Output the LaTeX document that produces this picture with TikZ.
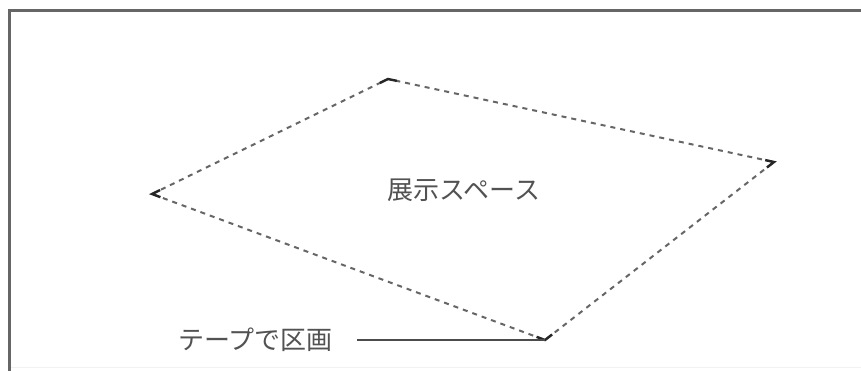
\documentclass[tikz,border=0pt]{standalone}
\usepackage{fontspec}
\usetikzlibrary{calc}
\newfontfamily\jpfont{Noto Sans CJK JP}
\begin{document}
\begin{tikzpicture}[x=1pt,y=-1pt,
  tape/.style={draw=black!60, line width=2pt, dash pattern=on 5pt off 5pt},
  cornermark/.style={draw=black!85, line width=2.4pt},
  frame/.style={draw=black!60, line width=3pt},
  lbl/.style={font=\jpfont\fontsize{26}{26}\selectfont, text=black!68, inner sep=0pt},
  leader/.style={draw=black!70, line width=2pt}]
\useasboundingbox (0,0) rectangle (861,371);
\fill[white] (0,0) rectangle (861,371);
% frame
\coordinate (ftl) at (9.5,11);
\coordinate (ftr) at (861,11);
\coordinate (fbl) at (9.5,371);
\draw[frame] (ftr) -- (ftl) -- (fbl);
\draw[draw=black!5, line width=1pt] (11,367) -- (861,367);
% corners of the exhibition space
\coordinate (L) at (152,194);
\coordinate (T) at (388,79);
\coordinate (R) at (774,162);
\coordinate (B) at (545,340);
\draw[tape] (L) -- (T) -- (R) -- (B) -- cycle;
\foreach \c/\a/\b in {L/T/B, T/L/R, R/T/B, B/L/R}{
  \draw[cornermark] ($(\c)!9pt!(\a)$) -- (\c) -- ($(\c)!9pt!(\b)$);
}
\node[lbl] (space) at (464,190) {展示スペース};
\node[lbl, anchor=east] (tape) at (333,340) {テープで区画};
\draw[leader] ([xshift=24pt]tape.east |- B) -- (B);
\end{tikzpicture}
\end{document}
